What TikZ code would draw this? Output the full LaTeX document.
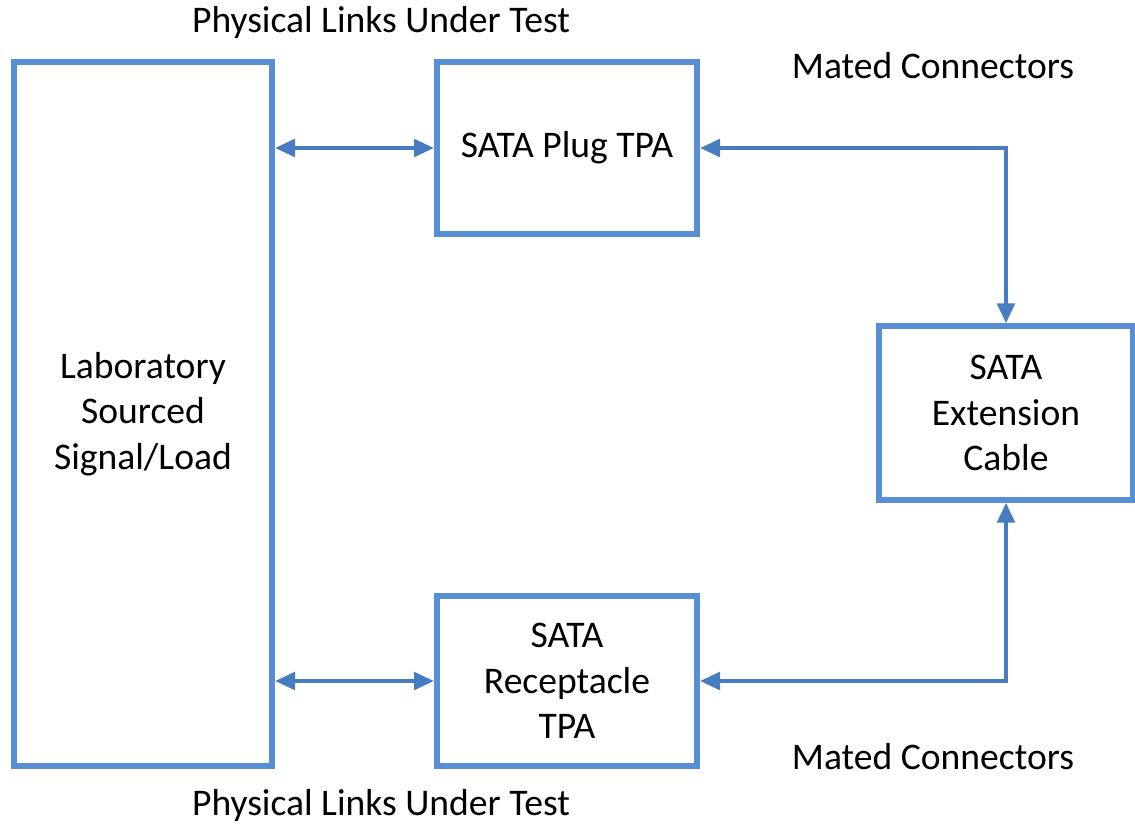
\documentclass[tikz,border=0pt]{standalone}
\usepackage{fontspec}
\setmainfont{Carlito}
\usepackage{xcolor}
\usetikzlibrary{arrows.meta, positioning, shadows}
\definecolor{boxblue}{RGB}{88,142,212}
\definecolor{linkblue}{RGB}{72,124,192}
\tikzstyle{block} = [rectangle, draw=boxblue, line width=4.5pt, fill=white, align=center,
  font=\fontsize{28.2}{34.3}\selectfont,
  drop shadow={opacity=0.3, shadow xshift=2.5pt, shadow yshift=-2.5pt}]
\tikzstyle{link} = [line width=3.2pt, draw=linkblue, {Triangle[length=15pt,width=13pt]}-{Triangle[length=15pt,width=13pt]}]
\tikzstyle{caption} = [font=\fontsize{28.2}{34}\selectfont]

\begin{document}
\begin{tikzpicture}[x=0.75pt, y=-0.75pt]
      \useasboundingbox (0,0) rectangle (1135,826);

      \node (lab) [block, minimum width=193.5pt, minimum height=528pt] at (143,414)
        {Laboratory\\Sourced\\Signal/Load};
      \node (plug) [block, minimum width=195pt, minimum height=129pt] at (567,148) {SATA Plug TPA};
      \node (rec) [block, minimum width=195pt, minimum height=127.5pt] at (567,681)
        {SATA\\Receptacle\\TPA};
      \node (ext) [block, minimum width=191pt, minimum height=130pt] at (1006,413)
        {SATA\\Extension\\Cable};

      \node (phys1) [caption] at (381,22) {Physical Links Under Test};
      \node (phys2) [caption] at (381,805) {Physical Links Under Test};
      \node (mate1) [caption] at (933,66) {Mated Connectors};
      \node (mate2) [caption] at (933,757) {Mated Connectors};

      \draw [link] (lab.east |- plug.west) -- (plug.west);
      \draw [link] (lab.east |- rec.west) -- (rec.west);
      \draw [link] (plug.east) -| (ext.north);
      \draw [link] (rec.east) -| (ext.south);
\end{tikzpicture}
\end{document}
